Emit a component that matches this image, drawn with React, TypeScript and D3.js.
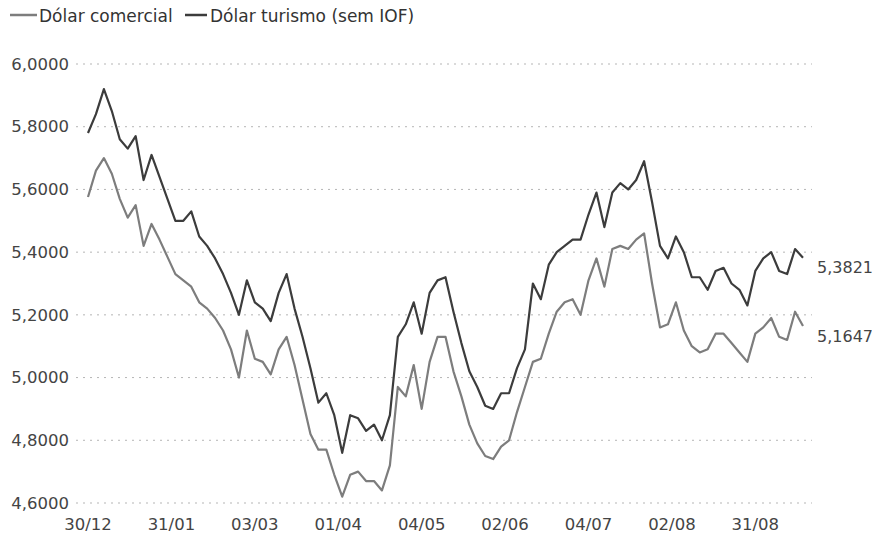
import React, { useEffect, useRef } from "react";
import * as d3 from "d3";

// one value every 2 trading days, from 30/12/2021
const comercial = [
  5.576, 5.66, 5.7, 5.65, 5.57, 5.51, 5.55, 5.42, 5.49, 5.44,
  5.385, 5.33, 5.31, 5.29, 5.24, 5.22, 5.19, 5.15, 5.09, 5.0,
  5.15, 5.06, 5.05, 5.01, 5.09, 5.13, 5.04, 4.93, 4.82, 4.77,
  4.77, 4.69, 4.62, 4.69, 4.7, 4.67, 4.67, 4.64, 4.72, 4.97,
  4.94, 5.04, 4.9, 5.05, 5.13, 5.13, 5.02, 4.94, 4.85, 4.79,
  4.75, 4.74, 4.78, 4.8, 4.89, 4.97, 5.05, 5.06, 5.14, 5.21,
  5.24, 5.25, 5.2, 5.31, 5.38, 5.29, 5.41, 5.42, 5.41, 5.44,
  5.46, 5.3, 5.16, 5.17, 5.24, 5.15, 5.1, 5.08, 5.09, 5.14,
  5.14, 5.11, 5.08, 5.05, 5.14, 5.16, 5.19, 5.13, 5.12, 5.21,
  5.1647,
];

const turismo = [
  5.78, 5.84, 5.92, 5.85, 5.76, 5.73, 5.77, 5.63, 5.71, 5.64,
  5.57, 5.5, 5.5, 5.53, 5.45, 5.42, 5.38, 5.33, 5.27, 5.2,
  5.31, 5.24, 5.22, 5.18, 5.27, 5.33, 5.22, 5.13, 5.03, 4.92,
  4.95, 4.88, 4.76, 4.88, 4.87, 4.83, 4.85, 4.8, 4.88, 5.13,
  5.17, 5.24, 5.14, 5.27, 5.31, 5.32, 5.21, 5.11, 5.02, 4.97,
  4.91, 4.9, 4.95, 4.95, 5.03, 5.09, 5.3, 5.25, 5.36, 5.4,
  5.42, 5.44, 5.44, 5.52, 5.59, 5.48, 5.59, 5.62, 5.6, 5.63,
  5.69, 5.56, 5.42, 5.38, 5.45, 5.4, 5.32, 5.32, 5.28, 5.34,
  5.35, 5.3, 5.28, 5.23, 5.34, 5.38, 5.4, 5.34, 5.33, 5.41,
  5.3821,
];

const tickLabels = ["30/12", "31/01", "03/03", "01/04", "04/05", "02/06", "04/07", "02/08", "31/08"];
const yTicks = [4.6, 4.8, 5.0, 5.2, 5.4, 5.6, 5.8, 6.0];

const width = 872;
const height = 538;
const font = "'DejaVu Sans', Verdana, sans-serif";

const App = () => {
  const ref = useRef<SVGSVGElement>(null);

  useEffect(() => {
    document.body.style.margin = "0";
    const svg = d3.select(ref.current);
    svg.selectAll("*").remove();

    let x = d3.scaleLinear().domain([0, 180]).range([88, 803]);
    let y = d3.scaleLinear().domain([4.6, 6.0]).range([503, 64]);
    let fmt = (v: number) => v.toFixed(4).replace(".", ",");

    // grid + y labels
    let grid = svg.append("g");
    yTicks.forEach((t) => {
      grid
        .append("line")
        .attr("x1", 76)
        .attr("x2", 812)
        .attr("y1", y(t))
        .attr("y2", y(t))
        .attr("stroke", "#b5b5b5")
        .attr("stroke-width", 1)
        .attr("stroke-dasharray", "2,5");
      grid
        .append("text")
        .attr("x", 69)
        .attr("y", y(t))
        .attr("dy", "0.35em")
        .attr("text-anchor", "end")
        .attr("font-family", font)
        .attr("font-size", 16.5)
        .attr("fill", "#444")
        .text(fmt(t));
    });

    // x labels, one every 21 trading days
    tickLabels.forEach((lab, i) => {
      svg
        .append("text")
        .attr("x", x(i * 21))
        .attr("y", 524)
        .attr("dy", "0.35em")
        .attr("text-anchor", "middle")
        .attr("font-family", font)
        .attr("font-size", 16.5)
        .attr("fill", "#444")
        .text(lab);
    });

    let line = d3
      .line<number>()
      .x((d, i) => x(i * 2))
      .y((d) => y(d));

    const series = [
      { name: "Dólar comercial", values: comercial, color: "#7d7d7d" },
      { name: "Dólar turismo (sem IOF)", values: turismo, color: "#3c3c3c" },
    ];

    series.forEach((s) => {
      svg
        .append("path")
        .datum(s.values)
        .attr("d", line)
        .attr("fill", "none")
        .attr("stroke", s.color)
        .attr("stroke-width", 2.2)
        .attr("stroke-linejoin", "round");

      let last = s.values[s.values.length - 1];
      svg
        .append("text")
        .attr("x", 817)
        .attr("y", y(last) + 10)
        .attr("dy", "0.35em")
        .attr("font-family", font)
        .attr("font-size", 16)
        .attr("fill", "#444")
        .text(fmt(last));
    });

    // legend
    const legendPos = [
      { lx: 10, lw: 27, tx: 39 },
      { lx: 185, lw: 22, tx: 210 },
    ];
    series.forEach((s, i) => {
      let p = legendPos[i];
      svg
        .append("line")
        .attr("x1", p.lx)
        .attr("x2", p.lx + p.lw)
        .attr("y1", 15)
        .attr("y2", 15)
        .attr("stroke", s.color)
        .attr("stroke-width", 2.5);
      svg
        .append("text")
        .attr("x", p.tx)
        .attr("y", 16)
        .attr("dy", "0.35em")
        .attr("font-family", font)
        .attr("font-size", 17)
        .attr("fill", "#333")
        .text(s.name);
    });
  });

  return (
    <svg
      ref={ref}
      width={width}
      height={height}
      style={{ display: "block", position: "absolute", left: 0, top: 0, background: "#fff" }}
    />
  );
};

export default App;
